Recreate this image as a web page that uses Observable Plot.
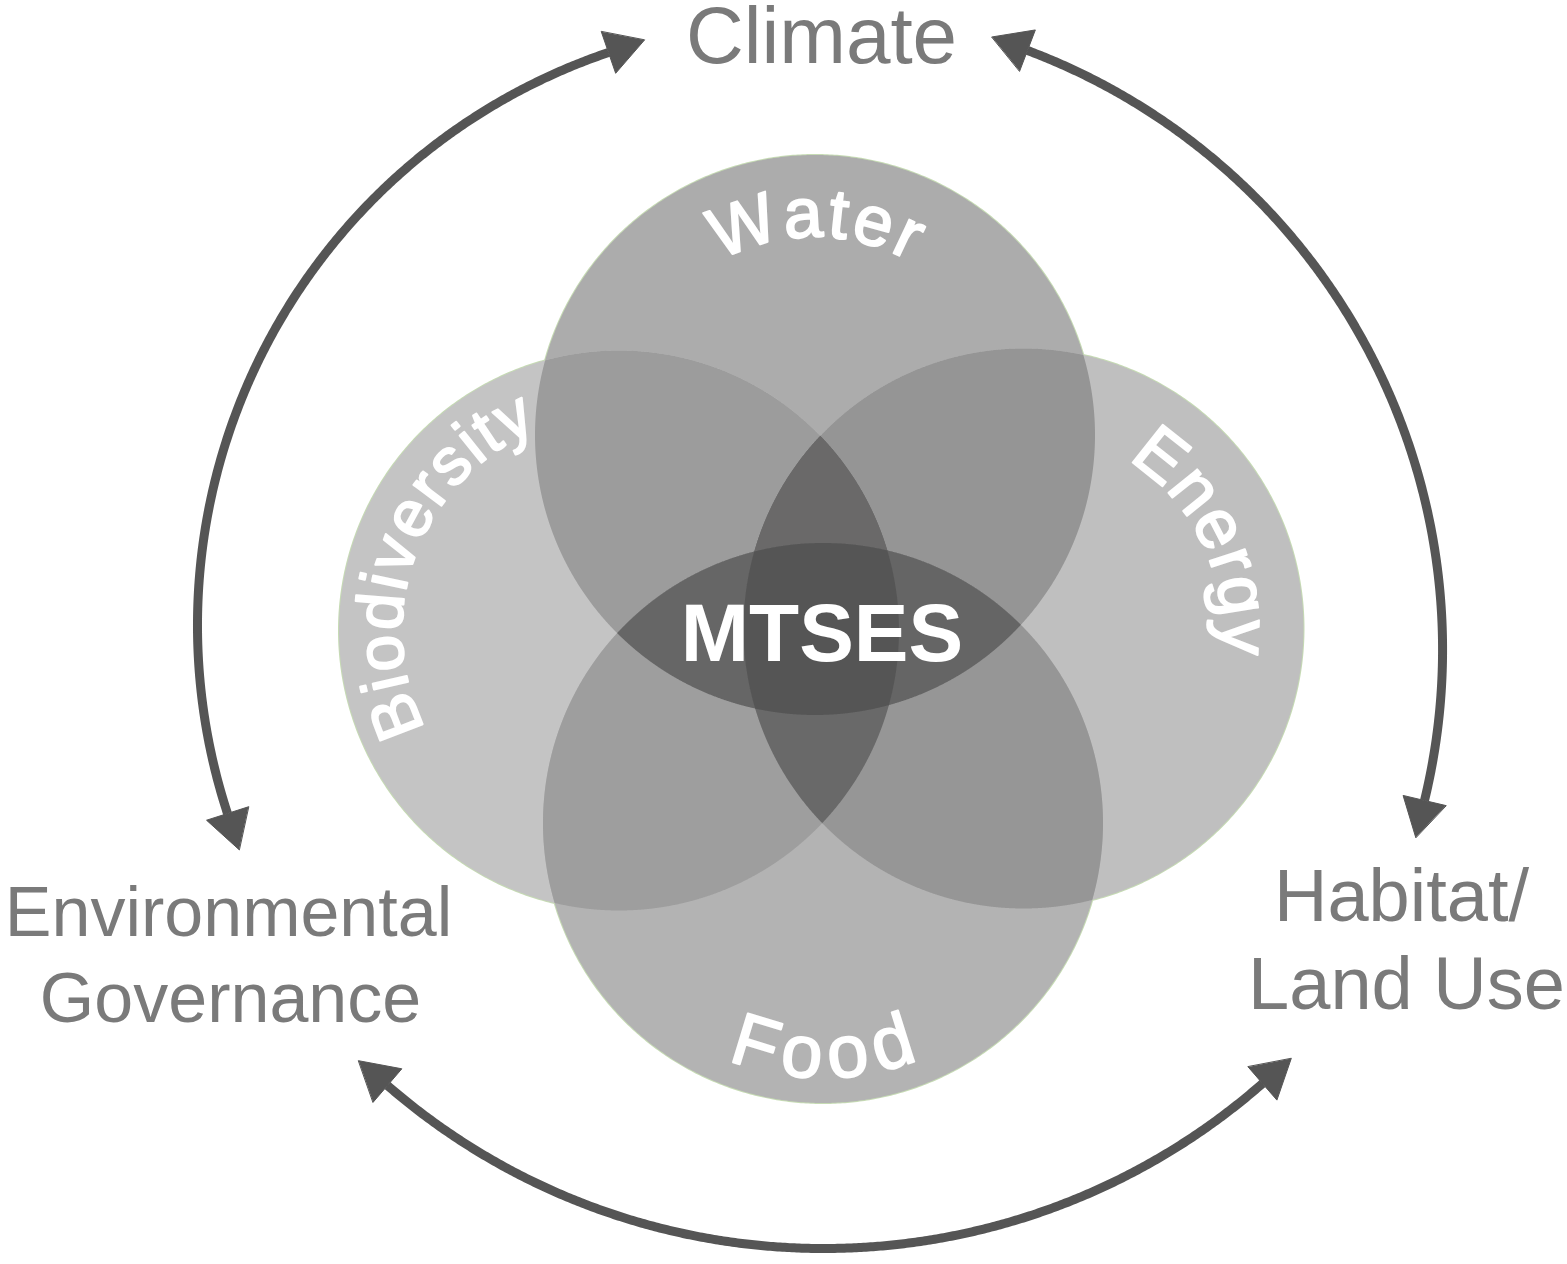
<!DOCTYPE html>
<html>
<head>
<meta charset="utf-8">
<script src="https://cdn.jsdelivr.net/npm/d3@7"></script>
<script src="https://cdn.jsdelivr.net/npm/@observablehq/plot@0.6"></script>
<style>
  html, body { margin: 0; padding: 0; background: #fff; overflow: hidden; }
  svg { display: block; }
</style>
</head>
<body>
<div id="chart"></div>
<script>
// ---------------- data ----------------
const FONT = '"Liberation Sans", Arial, Helvetica, sans-serif';

// the four systems (circles)
const circleKeys  = ["W", "B", "E", "F"];
const circleNames = ["Water", "Biodiversity", "Energy", "Food"];
const circleCX    = [814.5, 618.5, 1023, 822.5];
const circleCY    = [434.5, 630, 628, 822.5];
const circleR     = [280, 280, 280, 280];

// shade of every overlap region (by membership)
const regionSets   = ["W", "B", "E", "F", "WB", "WE", "WF", "BE", "BF", "EF", "WBE", "WBF", "WEF", "BEF", "WBEF"];
const regionColors = ["#acacac", "#c4c4c4", "#bfbfbf", "#b3b3b3", "#9c9c9c", "#959595", "#676767", "#686868", "#9e9e9e", "#969696", "#6a6969", "#666666", "#656565", "#696969", "#555555"];

// curved circle labels
const labelRadius  = [198, 217, 198, 255];
const labelMidDeg  = [-90, -159.5, -25.5, 90];
const labelSize    = [70, 66, 70, 74];
const labelSpacing = [3, 2, 1, 9];
const labelInward  = [false, false, false, true];

// outer labels
const outerText = ["Climate", "Environmental", "Governance", "Habitat/", "Land Use"];
const outerX    = [821, 228, 230, 1401, 1406];
const outerY    = [62, 935, 1021, 920, 1008];
const outerSize = [80, 70, 70, 74, 74];

// centre label
const centreText = "MTSES";
const centreX = 821.5, centreY = 660, centreSize = 82;

// double-headed arrows: start, via, end of each arc (arrowhead base points)
const arrowStart = [[608, 52], [1027, 50], [387, 1085]];
const arrowVia   = [[197, 628], [1442, 640], [820, 1248]];
const arrowEnd   = [[227, 813], [1424, 800], [1262, 1083]];
const arrowColor = "#555555";

// ---------------- geometry helpers ----------------
const W = 1567, H = 1264;

function circlePoints(i, n = 720) {
  const pts = [];
  for (let k = 0; k < n; k++) {
    const t = 2 * Math.PI * k / n;
    pts.push({x: circleCX[i] + circleR[i] * Math.cos(t), y: circleCY[i] + circleR[i] * Math.sin(t)});
  }
  return pts;
}
function insideC(px, py, j, tol = 0.01) {
  return Math.hypot(px - circleCX[j], py - circleCY[j]) <= circleR[j] + tol;
}
function intersections(a, b) {
  const x1 = circleCX[a], y1 = circleCY[a], r1 = circleR[a];
  const x2 = circleCX[b], y2 = circleCY[b], r2 = circleR[b];
  const d = Math.hypot(x2 - x1, y2 - y1);
  if (d > r1 + r2 || d < Math.abs(r1 - r2)) return [];
  const a0 = (r1 * r1 - r2 * r2 + d * d) / (2 * d);
  const h = Math.sqrt(Math.max(0, r1 * r1 - a0 * a0));
  const mx = x1 + a0 * (x2 - x1) / d, my = y1 + a0 * (y2 - y1) / d;
  return [[mx + h * (y2 - y1) / d, my - h * (x2 - x1) / d], [mx - h * (y2 - y1) / d, my + h * (x2 - x1) / d]];
}
function regionPolygon(set) {
  const idx = [...set].map(k => circleKeys.indexOf(k));
  if (idx.length === 1) return circlePoints(idx[0]);
  const pts = [];
  const N = 2880;
  for (const i of idx) {
    for (let k = 0; k < N; k++) {
      const t = 2 * Math.PI * k / N;
      const px = circleCX[i] + circleR[i] * Math.cos(t), py = circleCY[i] + circleR[i] * Math.sin(t);
      if (idx.every(j => j === i || insideC(px, py, j))) pts.push([px, py]);
    }
  }
  for (let a = 0; a < idx.length; a++) for (let b = a + 1; b < idx.length; b++) {
    for (const p of intersections(idx[a], idx[b])) {
      if (idx.every(j => insideC(p[0], p[1], j, 0.5))) pts.push(p);
    }
  }
  const mx = d3.mean(pts, p => p[0]), my = d3.mean(pts, p => p[1]);
  pts.sort((p, q) => Math.atan2(p[1] - my, p[0] - mx) - Math.atan2(q[1] - my, q[0] - mx));
  return pts.map(p => ({x: p[0], y: p[1]}));
}

// text along arcs
const ctx = document.createElement("canvas").getContext("2d");
function arcText(k) {
  const label = circleNames[k], size = labelSize[k], r = labelRadius[k];
  const cx = circleCX[k], cy = circleCY[k], inward = labelInward[k];
  ctx.font = `${size}px ${FONT}`;
  const chars = [...label];
  const widths = chars.map(c => ctx.measureText(c).width);
  const gap = labelSpacing[k];
  const total = d3.sum(widths) + gap * (chars.length - 1);
  let s = -total / 2;
  const mid = labelMidDeg[k] * Math.PI / 180;
  return chars.map((c, i) => {
    const sm = s + widths[i] / 2;
    s += widths[i] + gap;
    const th = mid + (inward ? -1 : 1) * sm / r;
    return {ch: c, x: cx + r * Math.cos(th), y: cy + r * Math.sin(th), rot: th * 180 / Math.PI + (inward ? -90 : 90)};
  });
}

// arcs through three points
function arcThrough(p1, p2, p3, n = 400) {
  const [ax, ay] = p1, [bx, by] = p2, [cx, cy] = p3;
  const d = 2 * (ax * (by - cy) + bx * (cy - ay) + cx * (ay - by));
  const ux = ((ax * ax + ay * ay) * (by - cy) + (bx * bx + by * by) * (cy - ay) + (cx * cx + cy * cy) * (ay - by)) / d;
  const uy = ((ax * ax + ay * ay) * (cx - bx) + (bx * bx + by * by) * (ax - cx) + (cx * cx + cy * cy) * (bx - ax)) / d;
  const r = Math.hypot(ax - ux, ay - uy);
  const a1 = Math.atan2(ay - uy, ax - ux), a2 = Math.atan2(by - uy, bx - ux), a3 = Math.atan2(cy - uy, cx - ux);
  const norm = a => ((a % (2 * Math.PI)) + 2 * Math.PI) % (2 * Math.PI);
  let sweep = norm(a3 - a1);
  if (norm(a2 - a1) > sweep) sweep = sweep - 2 * Math.PI; // go the other way
  const pts = [];
  for (let k = 0; k <= n; k++) {
    const t = a1 + sweep * k / n;
    pts.push([ux + r * Math.cos(t), uy + r * Math.sin(t)]);
  }
  return pts;
}
function head(base, prev, id) {
  let dx = base[0] - prev[0], dy = base[1] - prev[1];
  const L = Math.hypot(dx, dy); dx /= L; dy /= L;
  const len = 38, half = 22;
  return [
    {id, x: base[0] + len * dx, y: base[1] + len * dy},
    {id, x: base[0] - half * dy, y: base[1] + half * dx},
    {id, x: base[0] + half * dy, y: base[1] - half * dx}
  ];
}

const shafts = [], heads = [];
arrowStart.forEach((s, i) => {
  const pts = arcThrough(s, arrowVia[i], arrowEnd[i]);
  pts.forEach(p => shafts.push({id: i, x: p[0], y: p[1]}));
  heads.push(...head(pts[0], pts[3], `s${i}`));
  heads.push(...head(pts[pts.length - 1], pts[pts.length - 4], `e${i}`));
});

// ---------------- marks ----------------
const marks = [];
// faint outlines (only outer half stays visible)
circleKeys.forEach((k, i) => {
  marks.push(Plot.line(circlePoints(i), {x: "x", y: "y", stroke: "#c6dbb4", strokeWidth: 2, curve: "linear-closed"}));
});
// regions, painted from single circles to the four-way overlap
const order = d3.range(regionSets.length).sort((a, b) => regionSets[a].length - regionSets[b].length || a - b);
for (const r of order) {
  marks.push(Plot.line(regionPolygon(regionSets[r]), {x: "x", y: "y", fill: regionColors[r], stroke: "none", curve: "linear-closed"}));
}
// curved labels
circleNames.forEach((n, k) => {
  marks.push(Plot.text(arcText(k), {x: "x", y: "y", text: "ch", rotate: "rot", fontSize: labelSize[k], fontFamily: FONT, fill: "white", stroke: "white", strokeWidth: 2, textAnchor: "middle", lineAnchor: "bottom"}));
});
// centre
marks.push(Plot.text([centreText], {x: () => centreX, y: () => centreY, text: d => d, fontSize: centreSize, fontWeight: "bold", fontFamily: FONT, fill: "white", textAnchor: "middle", lineAnchor: "bottom"}));
// outer labels
const outer = outerText.map((t, i) => ({t, x: outerX[i], y: outerY[i], s: outerSize[i]}));
for (const sz of [...new Set(outerSize)]) {
  marks.push(Plot.text(outer.filter(d => d.s === sz), {x: "x", y: "y", text: "t", fontSize: sz, fontFamily: FONT, fill: "#7a7a7a", textAnchor: "middle", lineAnchor: "bottom"}));
}
// arrows
marks.push(Plot.line(shafts, {x: "x", y: "y", z: "id", stroke: arrowColor, strokeWidth: 9, strokeLinecap: "butt"}));
marks.push(Plot.line(heads, {x: "x", y: "y", z: "id", fill: arrowColor, stroke: arrowColor, strokeWidth: 1, curve: "linear-closed"}));

const chart = Plot.plot({
  width: W,
  height: H,
  margin: 0,
  x: {domain: [0, W], axis: null},
  y: {domain: [0, H], axis: null, reverse: true},
  style: {background: "white", overflow: "visible"},
  marks
});
document.getElementById("chart").appendChild(chart);
</script>
</body>
</html>
